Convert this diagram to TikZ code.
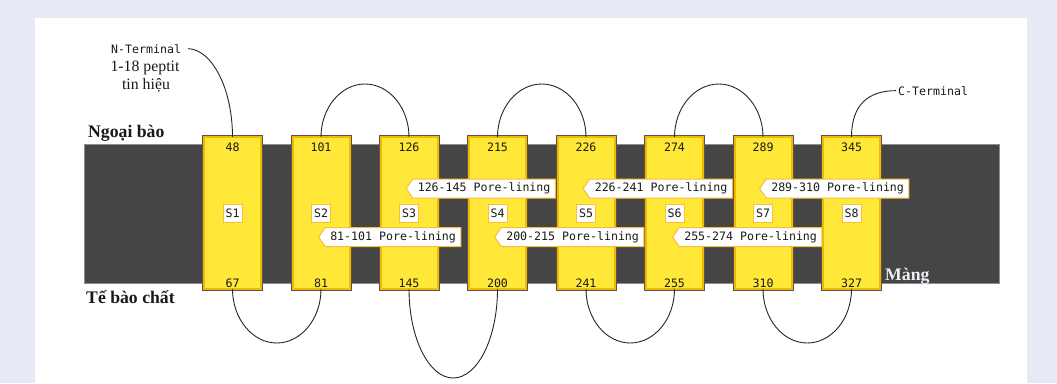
\documentclass[tikz,border=0pt]{standalone}
\usepackage{fontspec}
\setmainfont{Liberation Serif}
\newfontfamily\monofont{DejaVu Sans Mono}
\usetikzlibrary{calc,shapes.symbols}
\definecolor{bgblue}{HTML}{E6EAF5}
\definecolor{membfill}{HTML}{454545}
\definecolor{membedge}{HTML}{8E8E8E}
\definecolor{ybox}{HTML}{FFE837}
\definecolor{yedge}{HTML}{F5B700}
\definecolor{boxline}{HTML}{555555}
\definecolor{tagedge}{HTML}{F7BD3C}
\definecolor{txt}{HTML}{1A1A1A}
\definecolor{mangtxt}{HTML}{ECEEF4}
\tikzset{
  monotext/.style={font=\monofont\fontsize{11.6}{13}\selectfont, text=txt, inner sep=1pt},
  segbox/.style={draw=yedge, line width=2pt, fill=ybox, minimum width=57pt, minimum height=152pt, inner sep=0pt, outer sep=0pt},
  slabel/.style={monotext, draw=tagedge, fill=white, line width=0.8pt, minimum width=19pt, minimum height=18pt, inner sep=1pt},
  tag/.style={monotext, signal, signal to=west, signal pointer angle=110, draw=tagedge, fill=white, line width=1pt, minimum height=19pt, inner xsep=5pt, inner ysep=1pt},
  loopline/.style={draw=black!85, line width=0.9pt},
  serif/.style={font=\fontsize{15.8}{17}\selectfont, text=txt, inner sep=0pt},
  region/.style={font=\bfseries\fontsize{17.7}{19}\selectfont, inner sep=0pt},
}
\begin{document}
\begin{tikzpicture}[x=1pt,y=-1pt]
\useasboundingbox (0,0) rectangle (1057,383);
\fill[bgblue] (0,0) rectangle (1057,383);
\fill[white] (35,18) rectangle (1027,383);
% membrane
\filldraw[fill=membfill, draw=membedge, line width=1pt] (84,144) rectangle (999,283);
% segments
\foreach \i/\cx/\tn/\bn in {1/232.5/48/67, 2/321/101/81, 3/409/126/145, 4/497.5/215/200, 5/586/226/241, 6/674.5/274/255, 7/763/289/310, 8/851.5/345/327}{
  \node[segbox] (s\i) at (\cx,213) {};
  \draw[boxline, line width=0.8pt] ([shift={(-1.4,-1.4)}]s\i.north west) rectangle ([shift={(1.4,1.4)}]s\i.south east);
  \node[monotext, anchor=base] (t\i) at (\cx,151) {\tn};
  \node[monotext, anchor=base] (b\i) at (\cx,287) {\bn};
  \node[slabel] (l\i) at (\cx,213) {S\i};
}
% extracellular loops
\foreach \a/\b in {2/3,4/5,6/7}{
  \draw[loopline] (s\a.north) .. controls +(0,-29) and +(-24.3,0) .. ($(s\a.north)!0.5!(s\b.north)+(0,-53)$) .. controls +(24.3,0) and +(0,-29) .. (s\b.north);
}
% intracellular loops
\foreach \a/\b/\h in {1/2/54,3/4/89,5/6/54,7/8/54}{
  \draw[loopline] (s\a.south) .. controls +(0,{0.552*\h}) and +(-24.3,0) .. ($(s\a.south)!0.5!(s\b.south)+(0,\h)$) .. controls +(24.3,0) and +(0,{0.552*\h}) .. (s\b.south);
}
% terminals
\node[monotext, anchor=base west] (nterm) at (110,53) {N-Terminal};
\draw[loopline] ([xshift=6pt]nterm.east) .. controls +(24,1) and +(0,-48) .. (s1.north);
\node[serif, anchor=base] (pep1) at (145,71) {1-18 peptit};
\node[serif, anchor=base] (pep2) at (146,89.5) {tin hiệu};
\node[monotext, anchor=base west] (cterm) at (897,95) {C-Terminal};
\draw[loopline] (s8.north) .. controls +(0,-32) and +(-28,0) .. ([xshift=-1pt]cterm.west);
% region labels
\node[region, anchor=base west, text=txt] (ngoai) at (88,137) {Ngoại bào};
\node[region, anchor=base west, text=txt] (tebao) at (86,303) {Tế bào chất};
\node[region, anchor=base west, text=mangtxt] (mang) at (885,280) {Màng};
% pore-lining tags
\node[tag, anchor=west] (p1) at (405.5,188.5) {126-145 Pore-lining};
\node[tag, anchor=west] (p2) at (582.5,188.5) {226-241 Pore-lining};
\node[tag, anchor=west] (p3) at (759,188.5) {289-310 Pore-lining};
\node[tag, anchor=west] (p4) at (318,237) {81-101 Pore-lining};
\node[tag, anchor=west] (p5) at (494,237) {200-215 Pore-lining};
\node[tag, anchor=west] (p6) at (672,237) {255-274 Pore-lining};
\end{tikzpicture}
\end{document}
